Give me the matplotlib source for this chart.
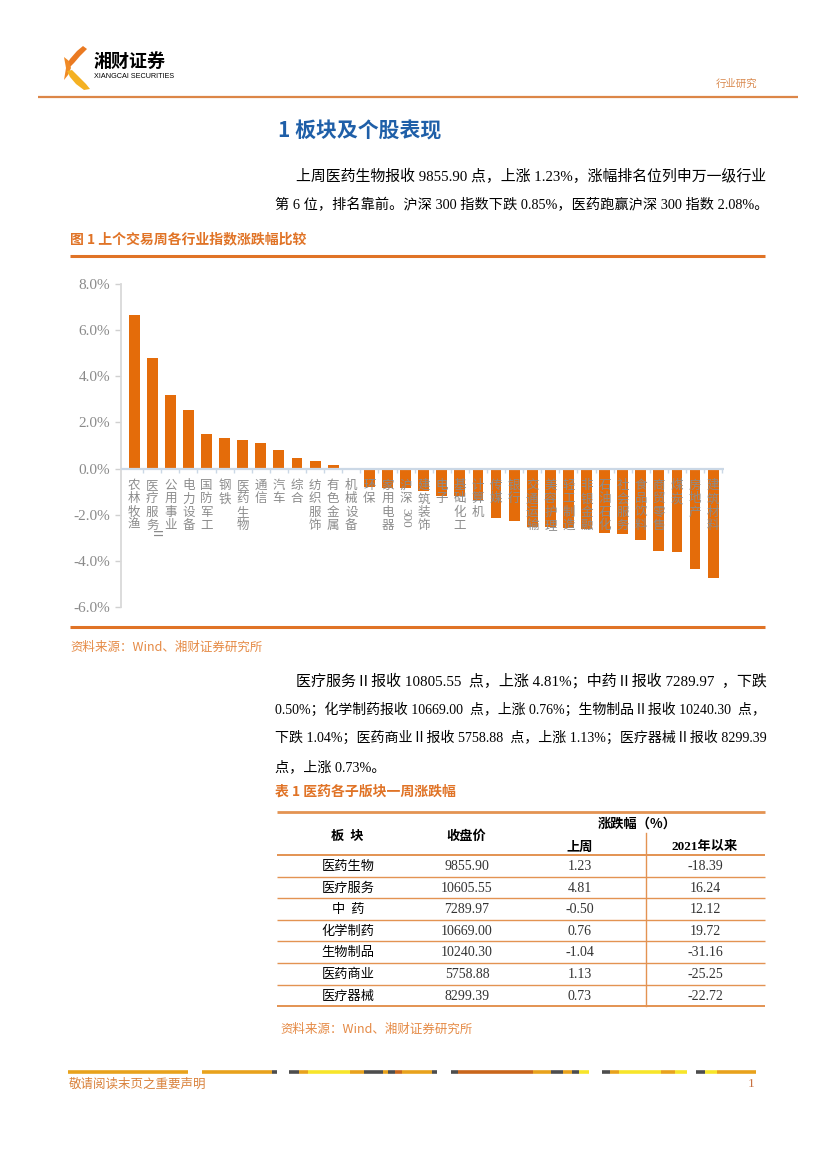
import re
import numpy as np
import matplotlib
matplotlib.use('Agg')
import matplotlib.pyplot as plt
from matplotlib.patches import Polygon

# 申万一级行业 上周涨跌幅 (%)
industries = ['农林牧渔', '医疗服务Ⅱ', '公用事业', '电力设备', '国防军工', '钢铁', '医药生物',
              '通信', '汽车', '综合', '纺织服饰', '有色金属', '机械设备', '环保', '家用电器',
              '沪深300', '建筑装饰', '电子', '基础化工', '计算机', '传媒', '银行', '交通运输',
              '美容护理', '轻工制造', '非银金融', '石油石化', '社会服务', '食品饮料', '商贸零售',
              '煤炭', '房地产', '建筑材料']
changes = [6.65, 4.81, 3.19, 2.52, 1.49, 1.34, 1.23, 1.10, 0.81, 0.46, 0.32, 0.17, -0.08,
           -0.80, -0.83, -0.85, -0.98, -1.17, -1.20, -1.36, -2.15, -2.27, -2.53, -2.55,
           -2.58, -2.60, -2.78, -2.82, -3.11, -3.59, -3.63, -4.35, -4.76]
yticks = [-6, -4, -2, 0, 2, 4, 6, 8]

# 表1 医药各子版块
sectors = ['医药生物', '医疗服务', '中  药', '化学制药', '生物制品', '医药商业', '医疗器械']
close_px = ['9855.90', '10605.55', '7289.97', '10669.00', '10240.30', '5758.88', '8299.39']
week_chg = ['1.23', '4.81', '-0.50', '0.76', '-1.04', '1.13', '0.73']
ytd_chg = ['-18.39', '16.24', '12.12', '19.72', '-31.16', '-25.25', '-22.72']

para1 = ['上周医药生物报收 9855.90 点，上涨 1.23%，涨幅排名位列申万一级行业',
         '第 6 位，排名靠前。沪深 300 指数下跌 0.85%，医药跑赢沪深 300 指数 2.08%。']
para2 = ['医疗服务Ⅱ报收 10805.55  点，上涨 4.81%；中药Ⅱ报收 7289.97  ，下跌',
         '0.50%；化学制药报收 10669.00  点，上涨 0.76%；生物制品Ⅱ报收 10240.30  点，',
         '下跌 1.04%；医药商业Ⅱ报收 5758.88  点，上涨 1.13%；医疗器械Ⅱ报收 8299.39',
         '点，上涨 0.73%。']

SERIF = ['Liberation Serif', 'Noto Sans CJK SC', 'DejaVu Sans']
CJK = ['Noto Sans CJK SC', 'DejaVu Sans']
ORANGE = '#e07326'
LIGHT_OR = '#e58a45'
BAR = '#e46c0a'

W, H = 827, 1169
fig = plt.figure(figsize=(W / 100, H / 100), dpi=100)
renderer = fig.canvas.get_renderer()


def fx(x):
    return x / W


def fy(y):
    return 1 - y / H


def put(x, y, s, size, color='black', ha='left', va='center', weight='normal', family=SERIF, **kw):
    return fig.text(fx(x), fy(y), s, fontsize=size, color=color, ha=ha, va=va,
                    fontweight=weight, family=family, **kw)


def fit(x0, x1, y, s, size=10.2):
    # stretch a justified line to the column width
    t = put(x0, y, s, size)
    w = t.get_window_extent(renderer).width
    t.set_fontsize(min(max(size * (x1 - x0) / w, size - 1), size + 1))
    return t


def hline(y, x0, x1, color, lw):
    fig.add_artist(plt.Line2D([fx(x0), fx(x1)], [fy(y), fy(y)], color=color, lw=lw,
                              solid_capstyle='butt'))


def shape(pts, color):
    fig.add_artist(Polygon([(fx(a), fy(b)) for a, b in pts], closed=True, color=color, lw=0))


# ---- header ----
shape([(83, 46), (87, 49), (80, 56), (74, 63), (69, 68), (66, 66), (70, 59), (77, 51)], '#ea7a22')
shape([(64, 57), (69, 61), (71, 68), (68, 75), (64, 80), (66, 68)], '#f08a26')
shape([(67, 71), (72, 70), (79, 77), (86, 84), (90, 89), (84, 90), (76, 84), (70, 77)], '#f4b122')
put(94, 61, '湘财证券', 13, weight='bold', family=CJK)
put(94, 76, 'XIANGCAI SECURITIES', 5.2, family=['Liberation Sans'])
put(757, 84, '行业研究', 7.5, color='#d98a50', ha='right', family=CJK)
hline(97, 38, 798, '#dc8648', 1.6)

put(278, 131, '1 板块及个股表现', 15, color='#1f5fa8', weight='bold', family=CJK)

fit(296, 765, 176, para1[0])
fit(275, 765, 205, para1[1])

put(70, 239, '图 1 上个交易周各行业指数涨跌幅比较', 10, color=ORANGE, weight='bold', family=CJK)
hline(256, 70, 765, ORANGE, 2.2)

# ---- chart ----
ax = fig.add_axes([fx(121.5), fy(607), (724 - 121.5) / W, (607 - 284) / H])
n = len(industries)
x = np.arange(n)
ax.bar(x, changes, width=0.6, color=BAR, zorder=2)
ax.set_xlim(-0.7, n - 1 + 0.6)
ax.set_ylim(-6, 8)
ax.set_yticks(yticks)
ax.set_yticklabels([f'{v:.1f}%' for v in yticks], family=SERIF)
ax.set_xticks([])
for s in ['top', 'right', 'bottom']:
    ax.spines[s].set_visible(False)
ax.spines['left'].set_color('#d9d9d9')
ax.spines['left'].set_linewidth(1.3)
ax.tick_params(axis='y', colors='#d0d0d0', length=4, width=1, labelcolor='#8a8a8a',
               labelsize=11, pad=4)
ax.axhline(0, color='#cbd8e6', lw=1.6, zorder=3)
unit = (607 - 284) / 14.0  # pixels per 1%
ax.vlines(np.arange(n) + 0.5, -4 / unit, 0, color='#cbd8e6', lw=1, zorder=3)

for i, name in enumerate(industries):
    off = 17.0
    for tok in re.findall(r'[0-9Ⅱ]+|.', name):
        if re.match(r'[0-9Ⅱ]', tok):
            h = 7.0 * len(tok) if tok[0].isdigit() else 6.0
            off += h / 2 - 5
            ax.text(i, -off / unit, tok, rotation=270, ha='center', va='center', fontsize=9.5,
                    color='#8a8a8a', family=SERIF, zorder=4)
            off += h / 2 + 7
        else:
            ax.text(i, -off / unit, tok, ha='center', va='center', fontsize=9,
                    color='#8c8c8c', family=CJK, zorder=4)
            off += 13.3

hline(627, 70, 765, ORANGE, 2.2)
put(70, 647, '资料来源：Wind、湘财证券研究所', 9, color=LIGHT_OR, family=CJK)

# ---- second paragraph ----
fit(296, 765, 681, para2[0])
fit(275, 765, 710, para2[1])
fit(275, 765, 738, para2[2])
put(275, 767, para2[3], 10.2)

put(275, 792, '表 1 医药各子版块一周涨跌幅', 10, color=ORANGE, weight='bold', family=CJK)

# ---- table ----
TL = '#e39352'
hline(812, 277, 765, TL, 2.0)
put(347, 836, '板  块', 9.5, ha='center', weight='bold', family=CJK)
put(466, 836, '收盘价', 9.5, ha='center', weight='bold', family=CJK)
put(637, 824, '涨跌幅（%）', 9.5, ha='center', weight='bold', family=CJK)
put(580, 847, '上周', 9.5, ha='center', weight='bold', family=CJK)
put(705, 847, '2021年以来', 9.5, ha='center', weight='bold', family=SERIF)
hline(855, 277, 765, TL, 1.4)
row_h = 21.6
for i in range(len(sectors)):
    yc = 866.5 + i * row_h
    put(348, yc, sectors[i], 9.5, ha='center', family=CJK)
    put(467, yc, close_px[i], 10, ha='center', color='#333333')
    put(580, yc, week_chg[i], 10, ha='center', color='#333333')
    put(705, yc, ytd_chg[i], 10, ha='center', color='#333333')
    yl = 855 + (i + 1) * row_h
    hline(yl, 277, 765, TL, 1.4 if i == len(sectors) - 1 else 1.0)
fig.add_artist(plt.Line2D([fx(645.7), fx(645.7)], [fy(833), fy(1006)], color=TL, lw=1.0))
put(280, 1029, '资料来源：Wind、湘财证券研究所', 9, color=LIGHT_OR, family=CJK)

# ---- footer ----
DK, GD, YL, OR = '#4d4d4d', '#e8a21c', '#f7e52a', '#c9661b'
footer = [(68, 188, GD), (202, 272, GD), (272, 277, DK),
          (289, 299, DK), (299, 308, GD), (308, 350, YL), (350, 364, GD), (364, 383, DK),
          (383, 388, GD), (388, 395, DK), (395, 402, OR), (402, 432, GD), (432, 437, DK),
          (451, 458, DK), (458, 533, OR), (533, 551, GD), (551, 563, DK), (563, 572, GD),
          (572, 579, DK), (579, 589, YL),
          (602, 610, DK), (610, 619, GD), (619, 661, YL), (661, 675, GD), (675, 687, YL),
          (696, 705, DK), (705, 717, YL), (717, 756, GD)]
for x0, x1, c in footer:
    hline(1071.5, x0, x1, c, 2.6)
put(69, 1084, '敬请阅读末页之重要声明', 9, color='#d9823c', family=CJK)
put(755, 1084, '1', 9.5, color='#c87040', ha='right')

fig.savefig('out.png', dpi=100, facecolor='white')
